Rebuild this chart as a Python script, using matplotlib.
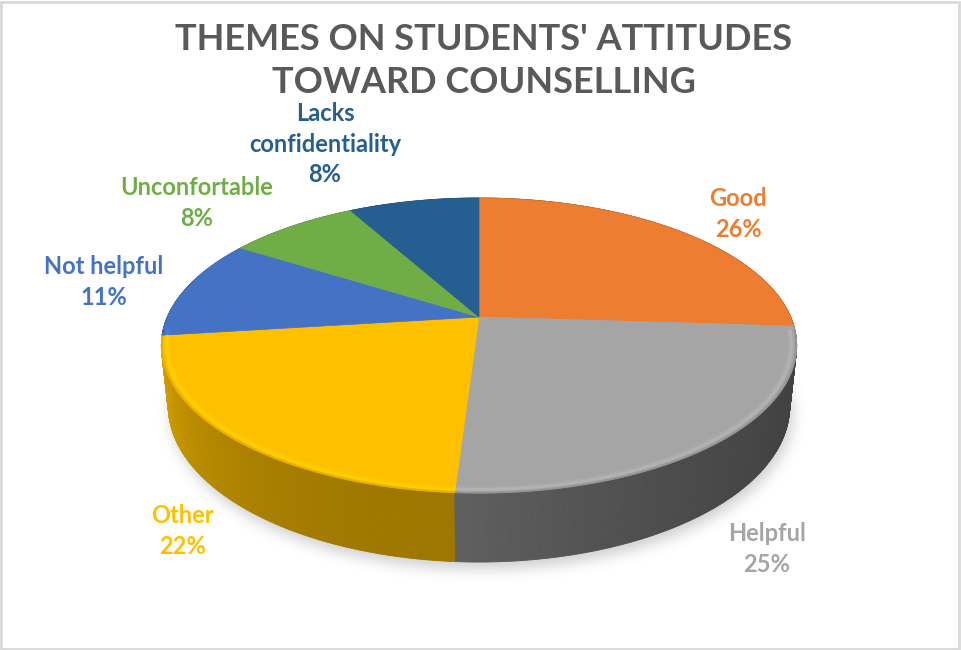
import numpy as np
import matplotlib.pyplot as plt
from matplotlib.collections import PolyCollection
from matplotlib.patches import Polygon, Rectangle
from matplotlib.path import Path
from matplotlib.colors import to_rgb

# data
labels = ["Good", "Helpful", "Other", "Not helpful", "Unconfortable", "Lacks\nconfidentiality"]
percents = [26, 25, 22, 11, 8, 8]
colors = ["#ED7D31", "#A5A5A5", "#FFC000", "#4472C4", "#70AD47", "#255E91"]
title = "THEMES ON STUDENTS' ATTITUDES\nTOWARD COUNSELLING"

# label anchor points (pixels, y down) - Excel "best fit" placement
label_pos = [(738, 214), (767, 549), (182, 531), (104, 282), (197, 203), (325, 144)]

W, H = 961, 650
FONT = "Lato"

# 3d projection of the pie (pixel coords, y grows downward)
CX, CY = 479, 317
TILT = np.radians(27.1)
DIST = 4.61
FOC = 1437
DEPTH = 0.22


def project(phi, r=1.0, z=0.0):
    X = r * np.sin(phi)
    Y = r * np.cos(phi)
    s, c = np.sin(TILT), np.cos(TILT)
    d = DIST + Y * c - z * s
    up = Y * s + z * c
    return CX + FOC * X / d, CY - FOC * up / d


def shade(col, f):
    return tuple(np.clip(np.array(to_rgb(col)) * f, 0, 1))


def brighten(col, f):
    # brighter version of the same hue (bevel highlight)
    c = np.array(to_rgb(col))
    return tuple(np.clip(c * f + 0.04, 0, 1))


fig = plt.figure(figsize=(W / 100, H / 100), dpi=100)
ax = fig.add_axes([0, 0, 1, 1])
ax.set_xlim(0, W)
ax.set_ylim(H, 0)
ax.axis("off")

fracs = np.array(percents) / sum(percents)
bounds = np.concatenate([[0], np.cumsum(fracs)]) * 2 * np.pi

# soft shadow under the pie
phis = np.linspace(0, 2 * np.pi, 400)
bx, by = project(phis, z=-DEPTH)
gx, gy = np.meshgrid(np.arange(W) + 0.5, np.arange(H) + 0.5)
mask = Path(np.column_stack([bx + 3, by + 7])).contains_points(
    np.column_stack([gx.ravel(), gy.ravel()])).reshape(H, W).astype(float)


def box_blur(a, r):
    for axis in (0, 1):
        pad = [(r + 1, r) if i == axis else (0, 0) for i in range(2)]
        c = np.cumsum(np.pad(a, pad, mode="edge"), axis=axis)
        if axis == 0:
            a = (c[2 * r + 1:] - c[:-2 * r - 1]) / (2 * r + 1)
        else:
            a = (c[:, 2 * r + 1:] - c[:, :-2 * r - 1]) / (2 * r + 1)
    return a


for _ in range(3):
    mask = box_blur(mask, 6)
shadow = np.zeros((H, W, 4))
shadow[..., :3] = 0.55
shadow[..., 3] = mask * 0.42
ax.imshow(shadow, extent=(0, W, H, 0), zorder=1, interpolation="bilinear")

# side walls (drawn back to front, top faces cover the hidden part)
wall_range = {0: (0.35, 0.45), 1: (0.39, 0.58), 2: (0.62, 0.88),
              3: (0.55, 0.75), 4: (0.55, 0.75), 5: (0.55, 0.75)}
quads, qcols, qdepth = [], [], []
for i, col in enumerate(colors):
    a0, a1 = bounds[i], bounds[i + 1]
    n = max(int((a1 - a0) / np.radians(0.5)), 2)
    ang = np.linspace(a0, a1, n + 1)
    lo, hi = wall_range[i]
    for k in range(n):
        p0, p1 = ang[k], ang[k + 1]
        x0, y0 = project(p0)
        x1, y1 = project(p1)
        x2, y2 = project(p1, z=-DEPTH)
        x3, y3 = project(p0, z=-DEPTH)
        quads.append([(x0, y0), (x1, y1), (x2, y2), (x3, y3)])
        u = (k + 0.5) / n
        qcols.append(shade(col, lo + (hi - lo) * u ** 2))
        qdepth.append(np.cos(0.5 * (p0 + p1)))
order = np.argsort(qdepth)[::-1]
ax.add_collection(PolyCollection([quads[j] for j in order], facecolors=[qcols[j] for j in order],
                                 edgecolors=[qcols[j] for j in order], linewidths=0.6, zorder=2))

# top faces
for i, col in enumerate(colors):
    ang = np.linspace(bounds[i], bounds[i + 1], 120)
    rx, ry = project(ang)
    cx0, cy0 = project(0.0, r=0.0)
    pts = np.vstack([[cx0, cy0], np.column_stack([rx, ry])])
    ax.add_patch(Polygon(pts, closed=True, facecolor=col, edgecolor=col, linewidth=0.5, zorder=3))

    # bevel: soft bright band just inside the front rim, darker lip at the edge
    a0 = max(bounds[i], np.radians(95))
    a1 = min(bounds[i + 1], np.radians(265))
    if a1 > a0:
        ang = np.linspace(a0, a1, 120)
        for rr, lw, al in [(0.982, 4.0, 0.25), (0.984, 2.0, 0.45)]:
            hx, hy = project(ang, r=rr)
            ax.plot(hx, hy, color=brighten(col, 1.08), lw=lw, alpha=al, zorder=4,
                    solid_capstyle="butt")
        ex, ey = project(ang, r=0.998)
        ax.plot(ex, ey, color=shade(col, 0.88), lw=1.5, alpha=0.7, zorder=4,
                solid_capstyle="butt")

# data labels
for lab, pct, col, (lx, ly) in zip(labels, percents, colors, label_pos):
    ax.text(lx, ly, f"{lab}\n{pct}%", color=col, ha="center", va="center",
            fontsize=17, fontweight="bold", family=FONT, linespacing=1.42, zorder=6)

# title
ax.text(W / 2 + 3, 61, title, color="#595959", ha="center", va="center",
        fontsize=26, fontweight="bold", family=FONT, linespacing=1.38, zorder=6)

# chart border
fig.add_artist(Rectangle((0.001, 0.001), 0.997, 0.996, transform=fig.transFigure,
                         fill=False, edgecolor="#d9d9d9", linewidth=2))

fig.savefig("out.png", dpi=100, facecolor="white")
